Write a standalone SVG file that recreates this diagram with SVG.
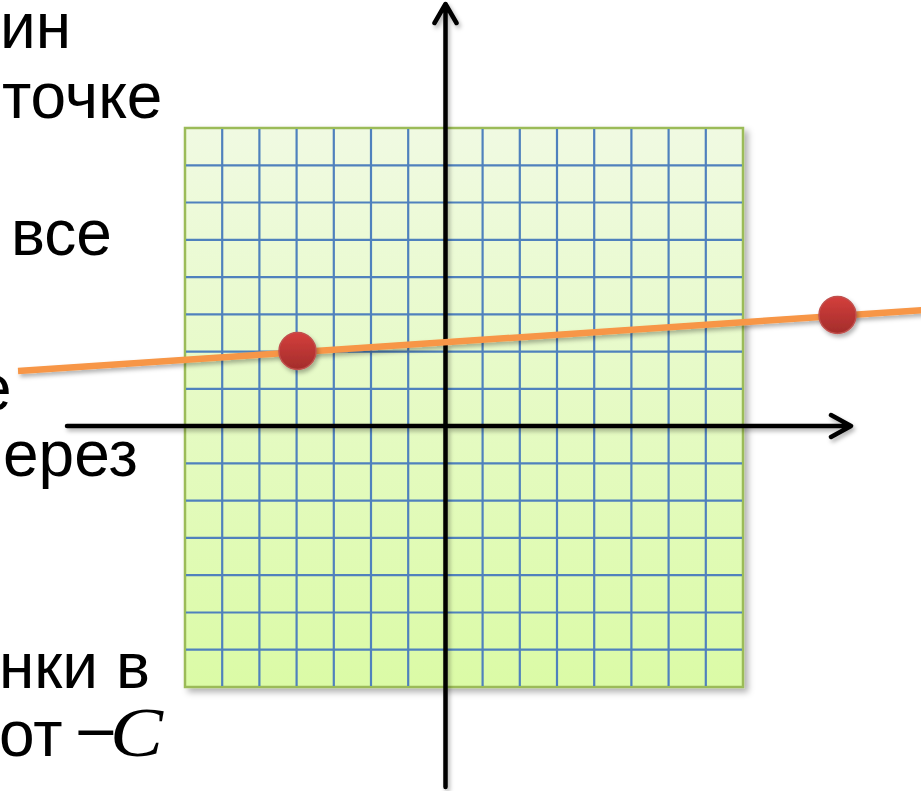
<svg xmlns="http://www.w3.org/2000/svg" width="921" height="791" viewBox="0 0 921 791">
<defs>
<style>
.t{font-family:"Liberation Sans",Arial,sans-serif;font-size:64px;fill:#000}
.g{stroke:#4f81bd;stroke-width:2.2}
.ax{stroke:#000;stroke-width:4.5;fill:none;stroke-linecap:round;stroke-linejoin:round}
.pt{fill:url(#rg);stroke:#c0504d;stroke-width:1.5}
</style>
<linearGradient id="gg" x1="0" y1="0" x2="0" y2="1">
<stop offset="0" stop-color="#f0fae2"/>
<stop offset="1" stop-color="#dbfba6"/>
</linearGradient>
<linearGradient id="rg" x1="0" y1="0" x2="0" y2="1">
<stop offset="0" stop-color="#d43f3c"/>
<stop offset="1" stop-color="#a32d2b"/>
</linearGradient>
<filter id="sh" x="-10%" y="-10%" width="130%" height="130%">
<feDropShadow dx="4" dy="4" stdDeviation="3" flood-color="#000" flood-opacity="0.3"/>
</filter>
<filter id="sh2" x="-20%" y="-20%" width="150%" height="150%">
<feDropShadow dx="2" dy="3" stdDeviation="2" flood-color="#000" flood-opacity="0.3"/>
</filter>
</defs>
<g id="text">
<text class="t" x="0" y="48">ин</text>
<text class="t" x="2" y="118">точке</text>
<text class="t" x="11" y="255">все</text>
<text class="t" x="-24" y="410">е</text>
<text class="t" x="3" y="476">ерез</text>
<text class="t" x="-1" y="688">нки в</text>
<text class="t" x="-1" y="756">от</text>
<text class="t" x="0" y="0" transform="translate(75,754) scale(1.12,1)">−</text>
<text x="110" y="756" textLength="53" lengthAdjust="spacingAndGlyphs" style="font-family:'Liberation Serif',serif;font-size:70px;font-style:italic">C</text>
</g>
<g id="grid">
<rect x="185" y="128" width="558" height="559" fill="url(#gg)" stroke="#9bbb59" stroke-width="2.5" filter="url(#sh)"/>
<g class="g">
<line x1="222.2" y1="129" x2="222.2" y2="686"/>
<line x1="259.4" y1="129" x2="259.4" y2="686"/>
<line x1="296.6" y1="129" x2="296.6" y2="686"/>
<line x1="333.8" y1="129" x2="333.8" y2="686"/>
<line x1="371" y1="129" x2="371" y2="686"/>
<line x1="408.2" y1="129" x2="408.2" y2="686"/>
<line x1="445.4" y1="129" x2="445.4" y2="686"/>
<line x1="482.6" y1="129" x2="482.6" y2="686"/>
<line x1="519.8" y1="129" x2="519.8" y2="686"/>
<line x1="557" y1="129" x2="557" y2="686"/>
<line x1="594.2" y1="129" x2="594.2" y2="686"/>
<line x1="631.4" y1="129" x2="631.4" y2="686"/>
<line x1="668.6" y1="129" x2="668.6" y2="686"/>
<line x1="705.8" y1="129" x2="705.8" y2="686"/>
<line x1="186" y1="165.3" x2="742" y2="165.3"/>
<line x1="186" y1="202.5" x2="742" y2="202.5"/>
<line x1="186" y1="239.8" x2="742" y2="239.8"/>
<line x1="186" y1="277.1" x2="742" y2="277.1"/>
<line x1="186" y1="314.3" x2="742" y2="314.3"/>
<line x1="186" y1="351.6" x2="742" y2="351.6"/>
<line x1="186" y1="388.9" x2="742" y2="388.9"/>
<line x1="186" y1="426.1" x2="742" y2="426.1"/>
<line x1="186" y1="463.4" x2="742" y2="463.4"/>
<line x1="186" y1="500.7" x2="742" y2="500.7"/>
<line x1="186" y1="537.9" x2="742" y2="537.9"/>
<line x1="186" y1="575.2" x2="742" y2="575.2"/>
<line x1="186" y1="612.5" x2="742" y2="612.5"/>
<line x1="186" y1="649.7" x2="742" y2="649.7"/>
</g>
</g>
<g id="connectors">
<g filter="url(#sh2)">
<path class="ax" d="M67,426 H850 M831,415 L851,426 L831,437"/>
<path class="ax" d="M445.5,787 V5 M434.5,23 L445.5,4 L456.5,23"/>
<line x1="18" y1="371" x2="925" y2="310" stroke="#f79646" stroke-width="6.5"/>
</g>
</g>
<g id="point1"><circle class="pt" cx="297.5" cy="351" r="18.5" filter="url(#sh2)"/></g>
<g id="point2"><circle class="pt" cx="837.5" cy="315" r="18.5" filter="url(#sh2)"/></g>
</svg>
